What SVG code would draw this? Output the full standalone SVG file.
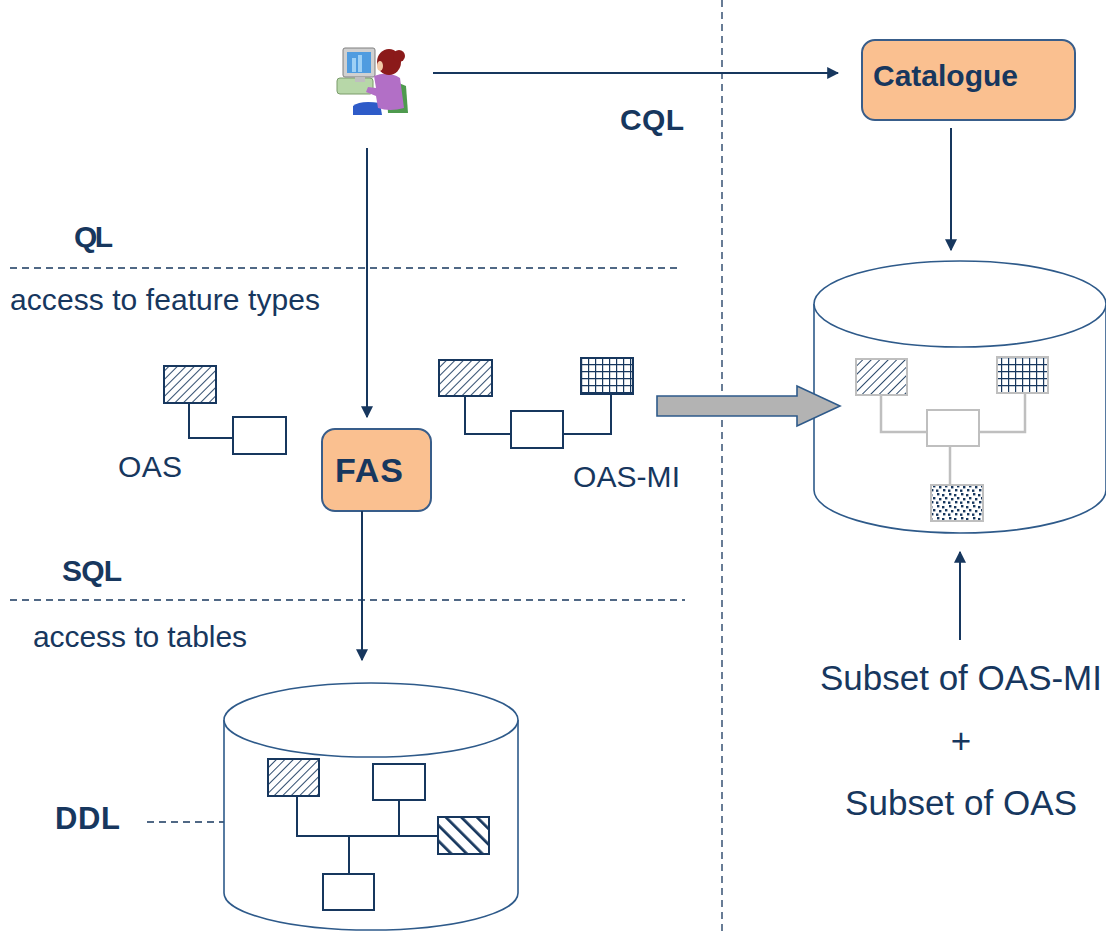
<svg xmlns="http://www.w3.org/2000/svg" width="1106" height="931" viewBox="0 0 1106 931">
  <style>
    .t { font-family: "Liberation Sans", Arial, sans-serif; fill: #17375E; }
    .b { font-weight: bold; }
    .dash { stroke: #17375E; stroke-width: 1.3; stroke-dasharray: 7 5; fill: none; }
    .conn { stroke: #17375E; stroke-width: 2; fill: none; }
    .box { fill: #FAC090; stroke: #385D8A; stroke-width: 2; }
    .cyl { fill: #FFFFFF; stroke: #2E5A8A; stroke-width: 1.6; }
    .lnk { stroke: #17375E; stroke-width: 2; fill: none; }
    .glnk { stroke: #BFBFBF; stroke-width: 2.5; fill: none; }
    .plain { fill: #FFFFFF; stroke: #17375E; stroke-width: 2; }
    .gplain { fill: #FFFFFF; stroke: #BFBFBF; stroke-width: 2; }
  </style>
  <defs>
    <marker id="arr" viewBox="0 0 10 10" refX="9" refY="5" markerWidth="6" markerHeight="6" orient="auto-start-reverse" markerUnits="strokeWidth">
      <path d="M0,0 L10,5 L0,10 z" fill="#17375E"/>
    </marker>
    <pattern id="hatch" width="6" height="6" patternUnits="userSpaceOnUse" patternTransform="rotate(45)">
      <rect width="6" height="6" fill="#FFFFFF"/>
      <line x1="0" y1="0" x2="0" y2="6" stroke="#17375E" stroke-width="1.8"/>
    </pattern>
    <pattern id="hatchWide" width="11" height="11" patternUnits="userSpaceOnUse" patternTransform="rotate(-45)">
      <rect width="11" height="11" fill="#FFFFFF"/>
      <line x1="0" y1="0" x2="0" y2="11" stroke="#17375E" stroke-width="5.5"/>
    </pattern>
    <pattern id="grid" x="0" y="0" width="7" height="7" patternUnits="userSpaceOnUse">
      <rect width="7" height="7" fill="#FFFFFF"/>
      <path d="M0,0 H7 M0,0 V7" stroke="#17375E" stroke-width="2.4" fill="none"/>
    </pattern>
    <pattern id="dots" width="12" height="12" patternUnits="userSpaceOnUse">
      <rect width="12" height="12" fill="#FFFFFF"/>
      <g fill="#17375E">
        <rect x="1" y="1" width="2.4" height="2.4"/>
        <rect x="6" y="2" width="2.4" height="2.4"/>
        <rect x="3" y="6" width="2.4" height="2.4"/>
        <rect x="9" y="5" width="2.4" height="2.4"/>
        <rect x="7" y="9" width="2.4" height="2.4"/>
        <rect x="0" y="9.5" width="2.4" height="2.4"/>
      </g>
    </pattern>
  </defs>

  <rect width="1106" height="931" fill="#FFFFFF"/>

  <!-- separators -->
  <g id="separators">
    <line class="dash" x1="722" y1="0" x2="722" y2="931"/>
    <line class="dash" x1="10" y1="268" x2="680" y2="268"/>
    <line class="dash" x1="10" y1="600" x2="685" y2="600"/>
    <line class="dash" x1="147" y1="822" x2="275" y2="822"/>
  </g>

  <!-- labels -->
  <g id="labels">
    <text class="t b" x="74" y="247" font-size="30" textLength="39">QL</text>
    <text class="t" x="10" y="310" font-size="30" textLength="310">access to feature types</text>
    <text class="t b" x="62" y="581" font-size="30" textLength="60">SQL</text>
    <text class="t" x="33" y="647" font-size="30" textLength="214">access to tables</text>
    <text class="t b" x="55" y="829" font-size="31" textLength="65">DDL</text>
    <text class="t b" x="620" y="130" font-size="30" textLength="64">CQL</text>
    <text class="t" x="118" y="477" font-size="30" textLength="64">OAS</text>
    <text class="t" x="573" y="487" font-size="30" textLength="107">OAS-MI</text>
    <text class="t" x="820" y="690" font-size="35" textLength="282">Subset of OAS-MI</text>
    <text class="t" x="961" y="753" font-size="35" text-anchor="middle">+</text>
    <text class="t" x="845" y="815" font-size="35" textLength="232">Subset of OAS</text>
  </g>

  <!-- user at workstation -->
  <g id="user">
    <rect x="337" y="78" width="36" height="16" rx="3" fill="#B7D7A8" stroke="#7A9B6B" stroke-width="1"/>
    <rect x="343" y="48" width="32" height="29" rx="2" fill="#D0D0D0" stroke="#7F7F7F" stroke-width="1"/>
    <rect x="347" y="52" width="24" height="21" fill="#4F9CE0"/>
    <rect x="352" y="58" width="4" height="14" fill="#9DD0F5"/>
    <rect x="358" y="55" width="4" height="17" fill="#9DD0F5"/>
    <rect x="355" y="77" width="10" height="5" fill="#BFBFBF"/>
    <path d="M353,106 Q360,100 380,103 L382,115 L353,115 Z" fill="#2E5BC8"/>
    <path d="M386,84 Q396,80 406,86 L408,113 L388,113 Z" fill="#4E9A4E"/>
    <path d="M374,76 Q388,70 400,78 L404,108 Q390,112 378,108 L376,96 L366,92 L368,87 L376,88 Z" fill="#B26FC6"/>
    <ellipse cx="389" cy="62" rx="12" ry="13" fill="#8B1A1A"/>
    <circle cx="399" cy="56" r="6" fill="#8B1A1A"/>
    <ellipse cx="380" cy="66" rx="3" ry="5" fill="#F2C9A8"/>
  </g>

  <!-- Catalogue node -->
  <g id="catalogue">
    <rect class="box" x="862" y="40" width="213" height="80" rx="13"/>
    <text class="t b" x="873" y="86" font-size="30" textLength="145">Catalogue</text>
  </g>

  <!-- FAS node -->
  <g id="fas">
    <rect class="box" x="322" y="429" width="109" height="82" rx="13"/>
    <text class="t b" x="335" y="482" font-size="34" textLength="68">FAS</text>
  </g>

  <!-- OAS schema fragment -->
  <g id="oas">
    <path class="lnk" d="M189,403 V438 H233"/>
    <rect x="164" y="366" width="52" height="37" fill="url(#hatch)" stroke="#17375E" stroke-width="2"/>
    <rect class="plain" x="233" y="417" width="53" height="37"/>
  </g>

  <!-- OAS-MI schema fragment -->
  <g id="oas-mi">
    <path class="lnk" d="M465,396 V434 H511 M563,434 H611 V394"/>
    <rect x="439" y="360" width="53" height="36" fill="url(#hatch)" stroke="#17375E" stroke-width="2"/>
    <rect x="581" y="358" width="52" height="36" fill="url(#grid)" stroke="#17375E" stroke-width="2"/>
    <rect class="plain" x="511" y="411" width="52" height="37"/>
  </g>

  <!-- catalogue store -->
  <g id="catalogue-store">
    <path class="cyl" d="M814,304 V490 A146,43 0 0 0 1106,490 V304"/>
    <ellipse class="cyl" cx="960" cy="304" rx="146" ry="43"/>
    <path class="glnk" d="M881,395 V432 H927 M979,432 H1025 V393 M950,446 V485"/>
    <rect x="856" y="359" width="51" height="36" fill="url(#hatch)" stroke="#BFBFBF" stroke-width="2"/>
    <rect x="997" y="357" width="51" height="36" fill="url(#grid)" stroke="#BFBFBF" stroke-width="2"/>
    <rect class="gplain" x="927" y="410" width="52" height="36"/>
    <rect x="931" y="485" width="52" height="36" fill="url(#dots)" stroke="#BFBFBF" stroke-width="2"/>
  </g>

  <!-- database -->
  <g id="database">
    <path class="cyl" d="M224,720 V893 A147,37 0 0 0 518,893 V720"/>
    <ellipse class="cyl" cx="371" cy="720" rx="147" ry="37"/>
    <path class="lnk" d="M297,796 V836 H438 M399,800 V836 M349,836 V874"/>
    <rect x="268" y="759" width="51" height="37" fill="url(#hatch)" stroke="#17375E" stroke-width="2"/>
    <rect class="plain" x="373" y="764" width="52" height="36"/>
    <rect x="438" y="817" width="51" height="37" fill="url(#hatchWide)" stroke="#17375E" stroke-width="2"/>
    <rect class="plain" x="323" y="874" width="51" height="36"/>
  </g>

  <!-- connectors -->
  <g id="connectors">
    <line class="conn" x1="433" y1="73" x2="838" y2="73" marker-end="url(#arr)"/>
    <line class="conn" x1="951" y1="128" x2="951" y2="250" marker-end="url(#arr)"/>
    <line class="conn" x1="367" y1="148" x2="367" y2="417" marker-end="url(#arr)"/>
    <line class="conn" x1="362" y1="511" x2="362" y2="660" marker-end="url(#arr)"/>
    <line class="conn" x1="960" y1="640" x2="960" y2="552" marker-end="url(#arr)"/>
    <path d="M657,396 H797 V386 L840,406 L797,426 V416 H657 Z" fill="#B3B3B3" stroke="#2E5A8A" stroke-width="1.6"/>
  </g>
</svg>
